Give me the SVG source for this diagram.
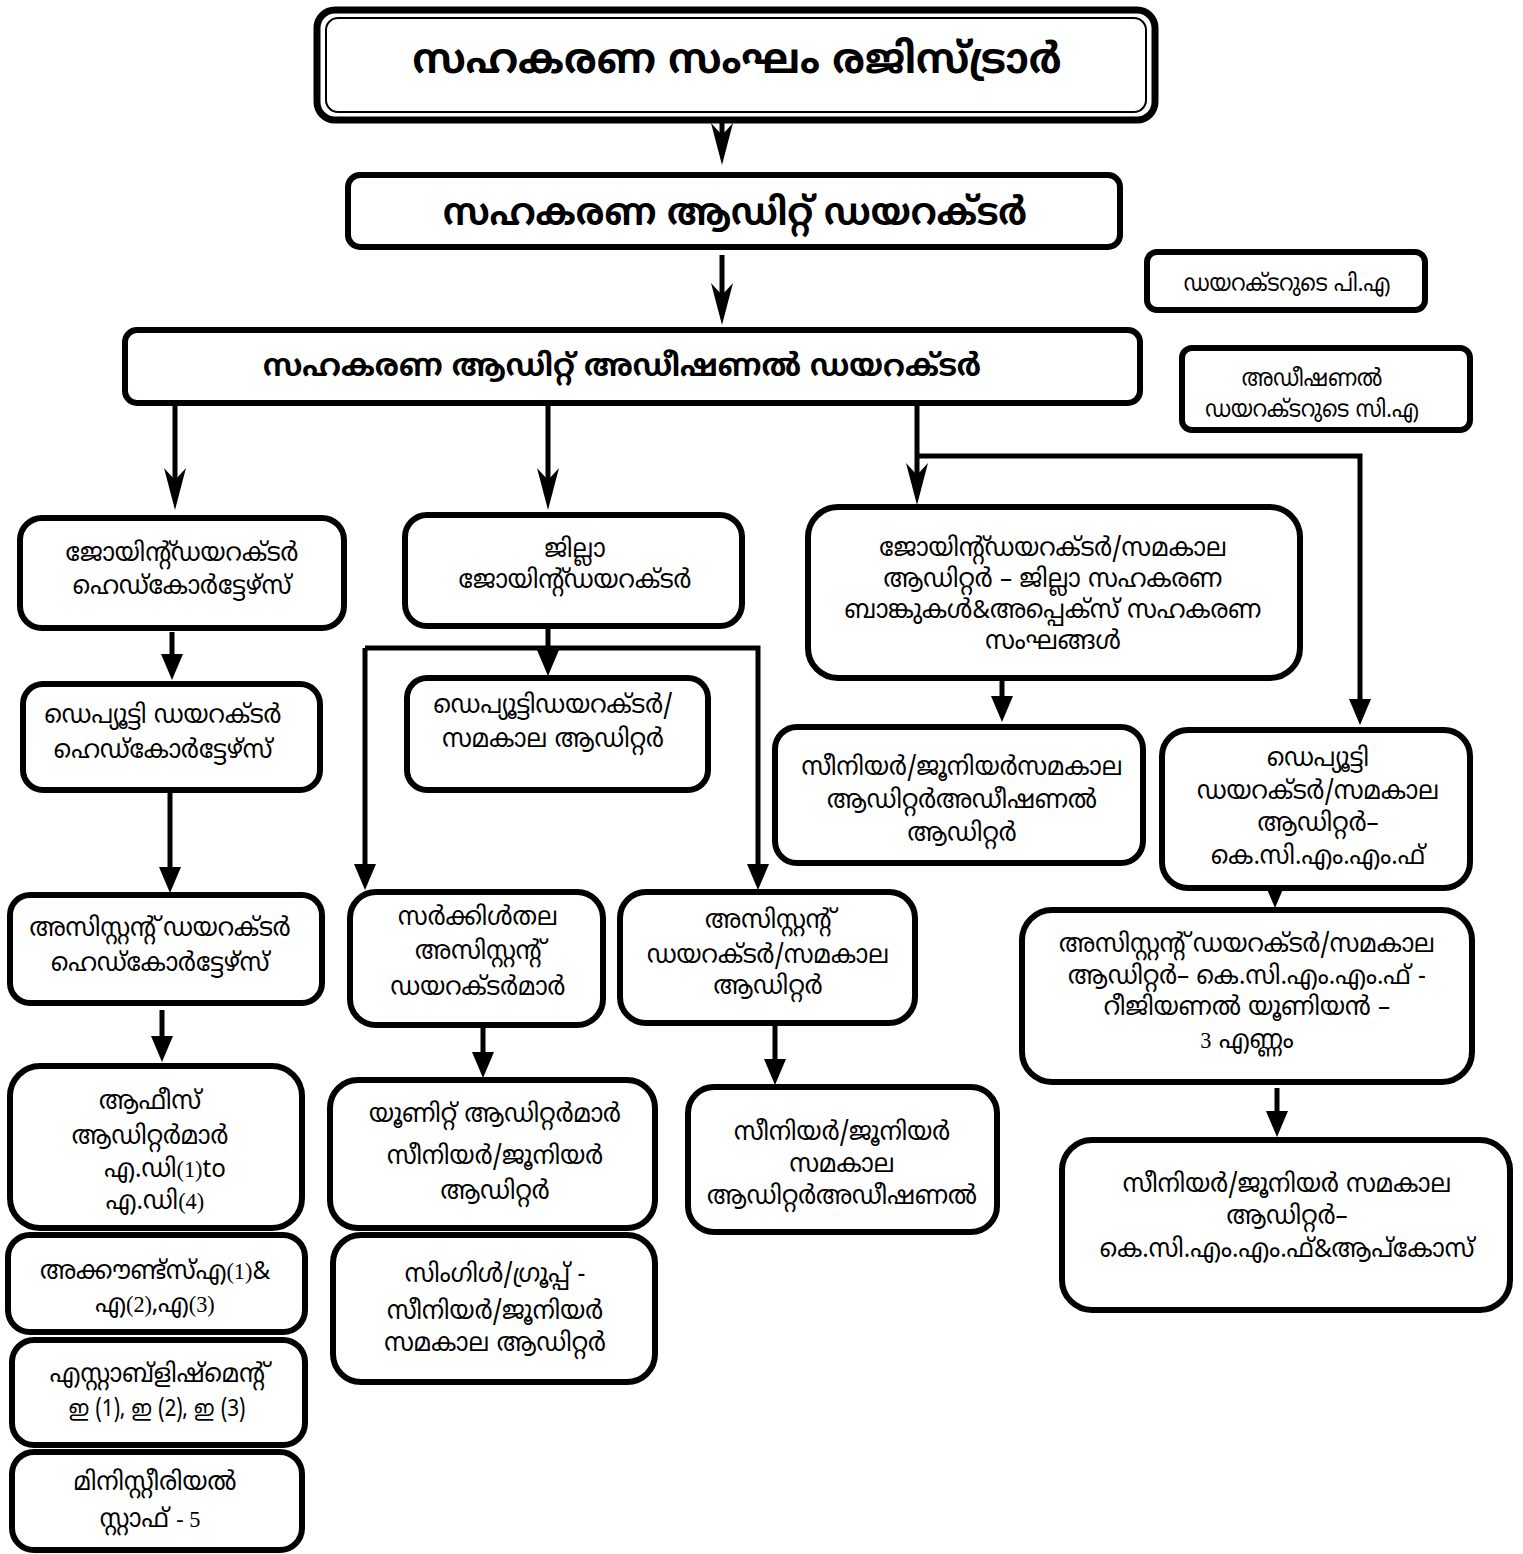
<svg xmlns="http://www.w3.org/2000/svg" width="1523" height="1554" viewBox="0 0 1523 1554">
<style>
.bx{fill:#fff;stroke:#000;stroke-width:6}
.t{font-family:"Noto Sans Malayalam","Noto Sans","DejaVu Sans",sans-serif;font-size:26px;text-anchor:middle;fill:#000;transform-box:fill-box;transform-origin:50% 50%;transform:scaleX(.93)}
.s{font-size:24px;transform:scaleX(.88)}
.b{font-weight:bold}
.h1{font-size:42px;transform:scaleX(.95)}
.h2{font-size:38px;transform:scaleX(.92)}
.h3{font-size:31px;transform:scaleX(.95)}
.n{font-family:"Liberation Serif",serif;font-size:24px}
.c{fill:none;stroke:#000;stroke-width:5}
</style>
<defs>
<marker id="st" markerUnits="userSpaceOnUse" markerWidth="42" markerHeight="24" viewBox="0 0 42 24" refX="14" refY="12" orient="auto"><path d="M0,1 L42,12 L0,23 L12,12 Z" fill="#000"/></marker>
<marker id="tr" markerUnits="userSpaceOnUse" markerWidth="26" markerHeight="22" viewBox="0 0 26 22" refX="14" refY="11" orient="auto"><path d="M0,0 L26,11 L0,22 Z" fill="#000"/></marker>
</defs>
<g id="connectors">
<path class="c" d="M722,123 V137" marker-end="url(#st)"/>
<path class="c" d="M722,255 V297" marker-end="url(#st)"/>
<path class="c" d="M175,405 V482" marker-end="url(#st)"/>
<path class="c" d="M548,405 V482" marker-end="url(#st)"/>
<path class="c" d="M917,405 V477" marker-end="url(#st)"/>
<path class="c" d="M917,456 H1360 V713" marker-end="url(#tr)"/>
<path class="c" d="M172,632 V668" marker-end="url(#tr)"/>
<path class="c" d="M548,628 V664" marker-end="url(#tr)"/>
<path class="c" d="M365,648 H758 V878" marker-end="url(#tr)"/>
<path class="c" d="M365,648 V878" marker-end="url(#tr)"/>
<path class="c" d="M1002,680 V710" marker-end="url(#tr)"/>
<path class="c" d="M170,792 V881" marker-end="url(#tr)"/>
<path class="c" d="M1275,890 V896" marker-end="url(#tr)"/>
<path class="c" d="M162,1010 V1050" marker-end="url(#tr)"/>
<path class="c" d="M483,1027 V1066" marker-end="url(#tr)"/>
<path class="c" d="M775,1025 V1073" marker-end="url(#tr)"/>
<path class="c" d="M1277,1088 V1125" marker-end="url(#tr)"/>
</g>
<g id="n-registrar">
<rect x="317" y="10" width="838" height="110" rx="18" fill="#fff" stroke="#000" stroke-width="7"/>
<rect x="326" y="18" width="820" height="94" rx="12" fill="none" stroke="#000" stroke-width="2"/>
<text class="t b h1" x="737" y="73">സഹകരണ സംഘം രജിസ്ട്രാർ</text>
</g>
<g id="n-director">
<rect class="bx" x="348" y="175" width="772" height="72" rx="12"/>
<text class="t b h2" x="735" y="225">സഹകരണ ആഡിറ്റ് ഡയറക്ടർ</text>
</g>
<g id="n-addl-director">
<rect class="bx" x="125" y="330" width="1015" height="73" rx="12"/>
<text class="t b h3" x="622" y="376">സഹകരണ ആഡിറ്റ് അഡീഷണൽ ഡയറക്ടർ</text>
</g>
<g id="n-pa">
<rect class="bx" x="1147" y="252" width="278" height="58" rx="10"/>
<text class="t s" x="1287" y="291">ഡയറക്ടറുടെ പി.എ</text>
</g>
<g id="n-ca">
<rect class="bx" x="1182" y="348" width="288" height="82" rx="10"/>
<text class="t s" x="1312" y="386">അഡീഷണൽ</text>
<text class="t s" x="1312" y="417">ഡയറക്ടറുടെ സി.എ</text>
</g>
<g id="n-jd-hq">
<rect class="bx" x="20" y="518" width="324" height="110" rx="22"/>
<text class="t" x="182" y="561">ജോയിന്റ്ഡയറക്ടർ</text>
<text class="t" x="182" y="594">ഹെഡ്കോർട്ടേഴ്സ്</text>
</g>
<g id="n-district-jd">
<rect class="bx" x="405" y="515" width="337" height="111" rx="22"/>
<text class="t" x="575" y="557">ജില്ലാ</text>
<text class="t" x="575" y="588">ജോയിന്റ്ഡയറക്ടർ</text>
</g>
<g id="n-jd-banks">
<rect class="bx" x="808" y="507" width="492" height="171" rx="30"/>
<text class="t" x="1053" y="556">ജോയിന്റ്ഡയറക്ടർ/സമകാല</text>
<text class="t" x="1053" y="587">ആഡിറ്റർ – ജില്ലാ സഹകരണ</text>
<text class="t" x="1053" y="618">ബാങ്കുകൾ&amp;അപ്പെക്സ് സഹകരണ</text>
<text class="t" x="1053" y="649">സംഘങ്ങൾ</text>
</g>
<g id="n-dd-hq">
<rect class="bx" x="23" y="684" width="297" height="106" rx="20"/>
<text class="t" x="163" y="723">ഡെപ്യൂട്ടി ഡയറക്ടർ</text>
<text class="t" x="163" y="758">ഹെഡ്കോർട്ടേഴ്സ്</text>
</g>
<g id="n-dd-samakala">
<rect class="bx" x="407" y="678" width="301" height="112" rx="20"/>
<text class="t" x="553" y="713">ഡെപ്യൂട്ടിഡയറക്ടർ/</text>
<text class="t" x="553" y="747">സമകാല ആഡിറ്റർ</text>
</g>
<g id="n-sr-jr-addl">
<rect class="bx" x="775" y="727" width="368" height="136" rx="22"/>
<text class="t" x="962" y="775">സീനിയർ/ജൂനിയർസമകാല</text>
<text class="t" x="962" y="808">ആഡിറ്റർഅഡീഷണൽ</text>
<text class="t" x="962" y="841">ആഡിറ്റർ</text>
</g>
<g id="n-dd-kcmmf">
<rect class="bx" x="1162" y="730" width="308" height="158" rx="26"/>
<text class="t" x="1318" y="766">ഡെപ്യൂട്ടി</text>
<text class="t" x="1318" y="799">ഡയറക്ടർ/സമകാല</text>
<text class="t" x="1318" y="831">ആഡിറ്റർ–</text>
<text class="t" x="1318" y="864">കെ.സി.എം.എം.ഫ്</text>
</g>
<g id="n-ad-hq">
<rect class="bx" x="10" y="895" width="312" height="108" rx="20"/>
<text class="t" x="160" y="936">അസിസ്റ്റന്റ് ഡയറക്ടർ</text>
<text class="t" x="160" y="971">ഹെഡ്കോർട്ടേഴ്സ്</text>
</g>
<g id="n-circle-ad">
<rect class="bx" x="350" y="892" width="253" height="133" rx="26"/>
<text class="t" x="478" y="925">സർക്കിൾതല</text>
<text class="t" x="478" y="959">അസിസ്റ്റന്റ്</text>
<text class="t" x="478" y="995">ഡയറക്ടർമാർ</text>
</g>
<g id="n-ad-samakala">
<rect class="bx" x="620" y="892" width="295" height="131" rx="26"/>
<text class="t" x="768" y="928">അസിസ്റ്റന്റ്</text>
<text class="t" x="768" y="963">ഡയറക്ടർ/സമകാല</text>
<text class="t" x="768" y="994">ആഡിറ്റർ</text>
</g>
<g id="n-ad-kcmmf">
<rect class="bx" x="1022" y="910" width="450" height="172" rx="30"/>
<text class="t" x="1247" y="952">അസിസ്റ്റന്റ് ഡയറക്ടർ/സമകാല</text>
<text class="t" x="1247" y="984">ആഡിറ്റർ– കെ.സി.എം.എം.ഫ് -</text>
<text class="t" x="1247" y="1015">റീജിയണൽ യൂണിയൻ –</text>
<text class="t" x="1247" y="1048"><tspan class="n">3</tspan>  എണ്ണം</text>
</g>
<g id="n-office-auditors">
<rect class="bx" x="10" y="1066" width="292" height="162" rx="30"/>
<text class="t" x="150" y="1109">ആഫീസ്</text>
<text class="t" x="150" y="1144">ആഡിറ്റർമാർ</text>
<text class="t" x="165" y="1177">എ.ഡി<tspan class="n">(1)</tspan>to</text>
<text class="t" x="155" y="1209">എ.ഡി<tspan class="n">(4)</tspan></text>
</g>
<g id="n-unit-auditors">
<rect class="bx" x="330" y="1080" width="325" height="148" rx="28"/>
<text class="t" x="495" y="1122">യൂണിറ്റ് ആഡിറ്റർമാർ</text>
<text class="t" x="495" y="1164">സീനിയർ/ജൂനിയർ</text>
<text class="t" x="495" y="1199">ആഡിറ്റർ</text>
</g>
<g id="n-sr-jr-addl-2">
<rect class="bx" x="688" y="1087" width="309" height="145" rx="26"/>
<text class="t" x="842" y="1140">സീനിയർ/ജൂനിയർ</text>
<text class="t" x="842" y="1172">സമകാല</text>
<text class="t" x="842" y="1204">ആഡിറ്റർഅഡീഷണൽ</text>
</g>
<g id="n-sr-jr-kcmmf">
<rect class="bx" x="1062" y="1140" width="448" height="170" rx="30"/>
<text class="t" x="1287" y="1192">സീനിയർ/ജൂനിയർ  സമകാല</text>
<text class="t" x="1287" y="1224">ആഡിറ്റർ–</text>
<text class="t" x="1287" y="1257">കെ.സി.എം.എം.ഫ്&amp;ആപ്കോസ്</text>
</g>
<g id="n-accounts">
<rect class="bx" x="8" y="1235" width="297" height="97" rx="22"/>
<text class="t" x="155" y="1279">അക്കൗണ്ട്സ്എ<tspan class="n">(1)</tspan>&amp;</text>
<text class="t" x="155" y="1312">എ<tspan class="n">(2)</tspan>,എ<tspan class="n">(3)</tspan></text>
</g>
<g id="n-establishment">
<rect class="bx" x="12" y="1340" width="293" height="105" rx="22"/>
<text class="t" x="157" y="1382">എസ്റ്റാബ്ളിഷ്മെന്റ്</text>
<text class="t" x="157" y="1416" style="font-size:23px;transform:scaleX(.9)">ഇ (1), ഇ (2), ഇ (3)</text>
</g>
<g id="n-ministerial">
<rect class="bx" x="12" y="1452" width="290" height="98" rx="22"/>
<text class="t" x="155" y="1490">മിനിസ്റ്റീരിയൽ</text>
<text class="t" x="150" y="1527">സ്റ്റാഫ് <tspan class="n"> - 5</tspan></text>
</g>
<g id="n-single-group">
<rect class="bx" x="333" y="1235" width="322" height="147" rx="28"/>
<text class="t" x="495" y="1282">സിംഗിൾ/ഗ്രൂപ്പ് -</text>
<text class="t" x="495" y="1319">സീനിയർ/ജൂനിയർ</text>
<text class="t" x="495" y="1351">സമകാല ആഡിറ്റർ</text>
</g>
</svg>
